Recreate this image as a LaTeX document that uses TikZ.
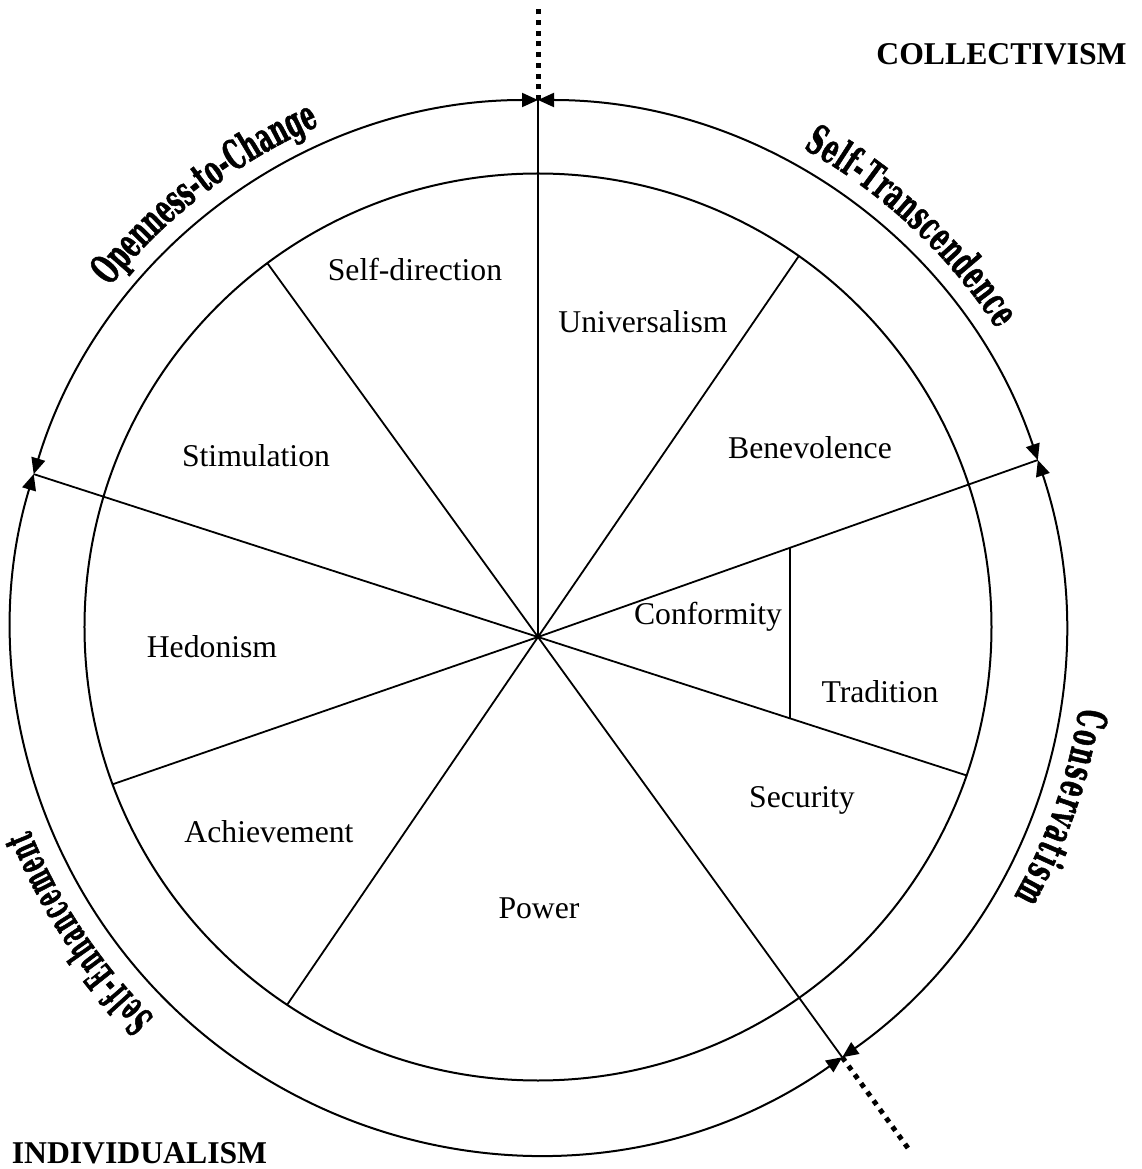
\documentclass[tikz,border=0pt]{standalone}
\usepackage{fontspec}
\setmainfont{Liberation Serif}
\newfontfamily\arcfont[FakeStretch=0.56,FakeBold=1.2]{DejaVu Serif}
\newfontfamily\arcfontnarrow[FakeStretch=0.48,FakeBold=1.2]{DejaVu Serif}
\usetikzlibrary{arrows.meta,decorations.text,calc}
\newcommand\rayend[3]{% name, angle from hub, circle radius
  \coordinate (#1) at ($(hub)+(#2:{10*sin(#2)+#3*sqrt(1-(10*cos(#2)/#3)^2)})$);}
\begin{document}
\begin{tikzpicture}[x=1pt,y=1pt,
  ring/.style={line width=2pt},
  spoke/.style={line width=1.8pt},
  dots/.style={line width=5pt, dash pattern=on 5pt off 5.7pt},
  span/.style={line width=2pt,
    {Triangle[length=16pt,width=14pt]}-{Triangle[length=16pt,width=14pt]}},
  value/.style={font=\fontsize{31.7}{36}\selectfont, inner sep=0pt},
  pole/.style={font=\bfseries\fontsize{31.7}{36}\selectfont, inner sep=0pt, anchor=base},
  arclabel/.style={decorate, decoration={text along path, text align={fit to path},
    text format delimiters={|}{|},
    text={|\arcfont\bfseries\fontsize{41}{46}\selectfont|#1}}},
  arclabelnarrow/.style={decorate, decoration={text along path, text align={fit to path},
    text format delimiters={|}{|},
    text={|\arcfontnarrow\bfseries\fontsize{41}{46}\selectfont|#1}}}
]
\useasboundingbox (-538,-542) rectangle (603,627);
\def\Rin{453.5}
\def\Rout{527}
\def\Rtxt{547}
\coordinate (hub) at (0,-10);

% inner ring
\draw[ring] (0,0) circle[radius=\Rin];

% spoke end points
\rayend{top}{90}{\Rout}
\rayend{ur}{55.6}{\Rin}
\rayend{rt}{19.5}{\Rout}
\rayend{rl}{-17.9}{\Rin}
\rayend{lr}{-54.1}{\Rout}
\rayend{bl}{-124.3}{\Rin}
\rayend{ll}{199.1}{\Rin}
\rayend{lt}{162.1}{\Rout}
\rayend{ul}{125.9}{\Rin}

\foreach \e in {top,ur,rt,rl,lr,bl,ll,lt,ul}
  \draw[spoke] (hub) -- (\e);

% divider between conformity and tradition
\coordinate (divtop) at (252,{-10+252*tan(19.5)});
\coordinate (divbot) at (252,{-10-252*tan(17.9)});
\draw[spoke] (divtop) -- (divbot);

% outer ring split into four double-headed arcs
\draw[span] (163.13:\Rout) arc[start angle=163.13, end angle=90, radius=\Rout];
\draw[span] (90:\Rout) arc[start angle=90, end angle=18.47, radius=\Rout];
\draw[span] (18.47:\Rout) arc[start angle=18.47, end angle=-54.73, radius=\Rout];
\draw[span] (-54.73:\Rout) arc[start angle=-54.73, end angle=-196.87, radius=\Rout];

% dotted axis
\coordinate (topend) at (0,619);
\coordinate (lowend) at ($(hub)+(-54.1:632)$);
\draw[dots] (top) -- (topend);
\draw[dots] (lr) -- (lowend);

% higher order dimensions along the ring
\path[arclabel=Openness-to-Change] (141.5:\Rtxt) arc[start angle=141.5, end angle=114, radius=\Rtxt];
\path[arclabel=Self-Transcendence] (61:\Rtxt) arc[start angle=61, end angle=33, radius=\Rtxt];
\path[arclabel=Conservatism] (-8.5:\Rtxt) arc[start angle=-8.5, end angle=-29.5, radius=\Rtxt];
\path[arclabelnarrow=Self-Enhancement] (225.5:\Rtxt) arc[start angle=225.5, end angle=201.8, radius=\Rtxt];

% value types
\node[value] (sd)  at (-123,357) {Self-direction};
\node[value] (uni) at (105,305)  {Universalism};
\node[value] (ben) at (272,179)  {Benevolence};
\node[value] (sti) at (-282,171) {Stimulation};
\node[value] (con) at (170,10)   {Conformity};
\node[value] (tra) at (342,-65)  {Tradition};
\node[value] (hed) at (-326,-20) {Hedonism};
\node[value] (sec) at (264,-173) {Security};
\node[value] (ach) at (-269,-205){Achievement};
\node[value] (pow) at (1,-281)   {Power};

% poles
\node[pole] (coll) at (463.5,562)  {COLLECTIVISM};
\node[pole] (ind)  at (-398.5,-536) {INDIVIDUALISM};
\end{tikzpicture}
\end{document}
